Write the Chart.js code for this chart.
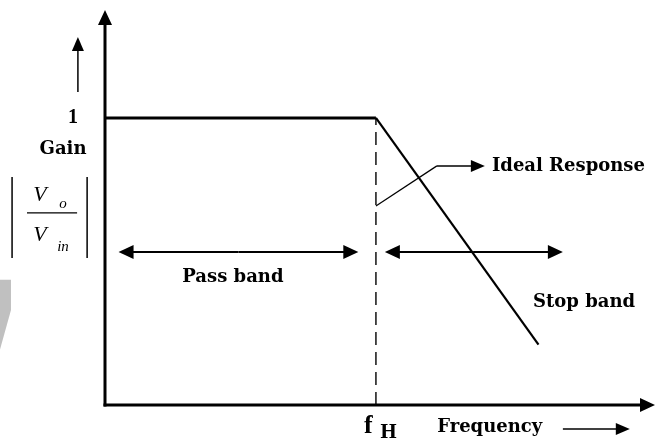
<!DOCTYPE html>
<html>
<head>
<meta charset="utf-8">
<script src="https://cdn.jsdelivr.net/npm/chart.js@4/dist/chart.umd.min.js"></script>
<style>
  html, body { margin:0; padding:0; background:#fff; }
  canvas { display:block; }
</style>
</head>
<body>
<canvas id="c" width="658" height="446"></canvas>
<script>
// frequency in units of fH, gain normalised to 1
const freq = [0, 1, 1.6];
const gain = [1, 1, 0.21];
const fH = 1;

// axis ranges
const xMax = 2.03;
const yMax = 1.376;

// band markers (frequency units)
const passBand = [0.05, 0.935];
const stopBand = [1.033, 1.69];
const bandGain = 0.533;

const labels = {
	gain: 'Gain',
	one: '1',
	pass: 'Pass band',
	stop: 'Stop band',
	ideal: 'Ideal Response',
	freq: 'Frequency',
	fh: ['f', 'H'],
	vo: ['V', 'o'],
	vin: ['V', 'in'],
};

const SERIF = '"DejaVu Serif", "Liberation Serif", serif';
const TIMES = '"Liberation Serif", "Times New Roman", serif';

const arrow = (c, x1, y1, x2, y2, w, len, half) => {
	const ang = Math.atan2(y2 - y1, x2 - x1);
	c.lineWidth = w;
	c.beginPath();
	c.moveTo(x1, y1);
	c.lineTo(x2 - Math.cos(ang) * len * 0.6, y2 - Math.sin(ang) * len * 0.6);
	c.stroke();
	c.beginPath();
	c.moveTo(x2, y2);
	c.lineTo(x2 - Math.cos(ang) * len - Math.sin(ang) * half, y2 - Math.sin(ang) * len + Math.cos(ang) * half);
	c.lineTo(x2 - Math.cos(ang) * len + Math.sin(ang) * half, y2 - Math.sin(ang) * len - Math.cos(ang) * half);
	c.closePath();
	c.fill();
};

const deko = {
	id: 'deko',
	afterDatasetsDraw: chart => {
		const c = chart.ctx;
		const X = v => chart.scales.x.getPixelForValue(v);
		const Y = v => chart.scales.y.getPixelForValue(v);
		c.save();

		// grey scrap at the left edge
		c.fillStyle = '#c0c0c0';
		c.beginPath();
		c.moveTo(X(-0.388), Y(0.436));
		c.lineTo(X(-0.347), Y(0.436));
		c.lineTo(X(-0.347), Y(0.331));
		c.lineTo(X(-0.388), Y(0.192));
		c.closePath();
		c.fill();

		c.strokeStyle = '#000';
		c.fillStyle = '#000';
		c.lineCap = 'butt';

		// axes
		arrow(c, X(0), Y(0) + 1.5, X(0), Y(yMax), 3, 15, 7);
		arrow(c, X(0) - 1.5, Y(0), X(xMax), Y(0), 3, 15, 7);

		// small gain arrow
		arrow(c, X(-0.1), Y(1.09), X(-0.1), Y(1.282), 1.5, 14, 6);

		// band arrows
		const dbl = (a, b) => {
			const m = (X(a) + X(b)) / 2;
			arrow(c, m, Y(bandGain), X(a), Y(bandGain), 2, 15, 7);
			arrow(c, m, Y(bandGain), X(b), Y(bandGain), 2, 15, 7);
		};
		dbl(passBand[0], passBand[1]);
		dbl(stopBand[0], stopBand[1]);

		// ideal response leader
		c.lineWidth = 1.2;
		c.beginPath();
		c.moveTo(X(fH), Y(0.693));
		c.lineTo(X(1.225), Y(0.833));
		c.stroke();
		arrow(c, X(1.225), Y(0.833), X(1.402), Y(0.833), 1.5, 14, 6);

		// frequency arrow
		arrow(c, X(1.69), Y(-0.084), X(1.937), Y(-0.084), 1.5, 14, 6);

		// texts
		c.textBaseline = 'middle';
		c.textAlign = 'center';
		c.font = 'bold 18px ' + SERIF;
		c.fillText(labels.gain, X(-0.155), Y(0.889));
		c.fillText(labels.pass, X(0.472), Y(0.446));
		c.fillText(labels.stop, X(1.768), Y(0.359));
		c.fillText(labels.freq, X(1.42), Y(-0.077));
		c.textAlign = 'left';
		c.fillText(labels.ideal, X(1.428), Y(0.833));
		c.textAlign = 'center';
		c.font = 'bold 20px ' + TIMES;
		c.fillText(labels.one, X(-0.118), Y(1));

		// f_H
		c.font = 'bold 26px ' + TIMES;
		c.fillText(labels.fh[0], X(0.972), Y(-0.075));
		c.font = 'bold 18px ' + SERIF;
		c.fillText(labels.fh[1], X(1.046), Y(-0.098));

		// |Vo / Vin|
		c.lineWidth = 1.5;
		[-0.343, -0.066].forEach(v => {
			c.beginPath();
			c.moveTo(X(v), Y(0.794));
			c.lineTo(X(v), Y(0.512));
			c.stroke();
		});
		c.lineWidth = 1.2;
		c.beginPath();
		c.moveTo(X(-0.288), Y(0.669));
		c.lineTo(X(-0.103), Y(0.669));
		c.stroke();
		c.font = 'italic 22px ' + TIMES;
		c.fillText(labels.vo[0], X(-0.24), Y(0.73));
		c.fillText(labels.vin[0], X(-0.24), Y(0.59));
		c.font = 'italic 15px ' + TIMES;
		c.fillText(labels.vo[1], X(-0.155), Y(0.7));
		c.fillText(labels.vin[1], X(-0.155), Y(0.55));

		c.restore();
	}
};

new Chart(document.getElementById('c'), {
	type: 'line',
	data: {
		datasets: [{
			label: 'Ideal Response',
			data: freq.map((f, i) => ({ x: f, y: gain[i] })),
			borderColor: '#000',
			borderWidth: 3,
			pointRadius: 0,
			tension: 0,
			segment: { borderWidth: ctx => ctx.p0DataIndex === 0 ? 3 : 2.2 },
		}, {
			label: 'fH',
			data: [{ x: fH, y: 0 }, { x: fH, y: gain[1] }],
			borderColor: '#000',
			borderWidth: 1.4,
			borderDash: [13, 7],
			pointRadius: 0,
		}]
	},
	options: {
		responsive: false,
		animation: false,
		devicePixelRatio: 1,
		layout: { padding: { left: 105, top: 10, right: 3, bottom: 41 } },
		plugins: {
			legend: { display: false },
			tooltip: { enabled: false },
		},
		scales: {
			x: { type: 'linear', min: 0, max: xMax, display: false },
			y: { type: 'linear', min: 0, max: yMax, display: false },
		},
	},
	plugins: [deko],
});
</script>
</body>
</html>
